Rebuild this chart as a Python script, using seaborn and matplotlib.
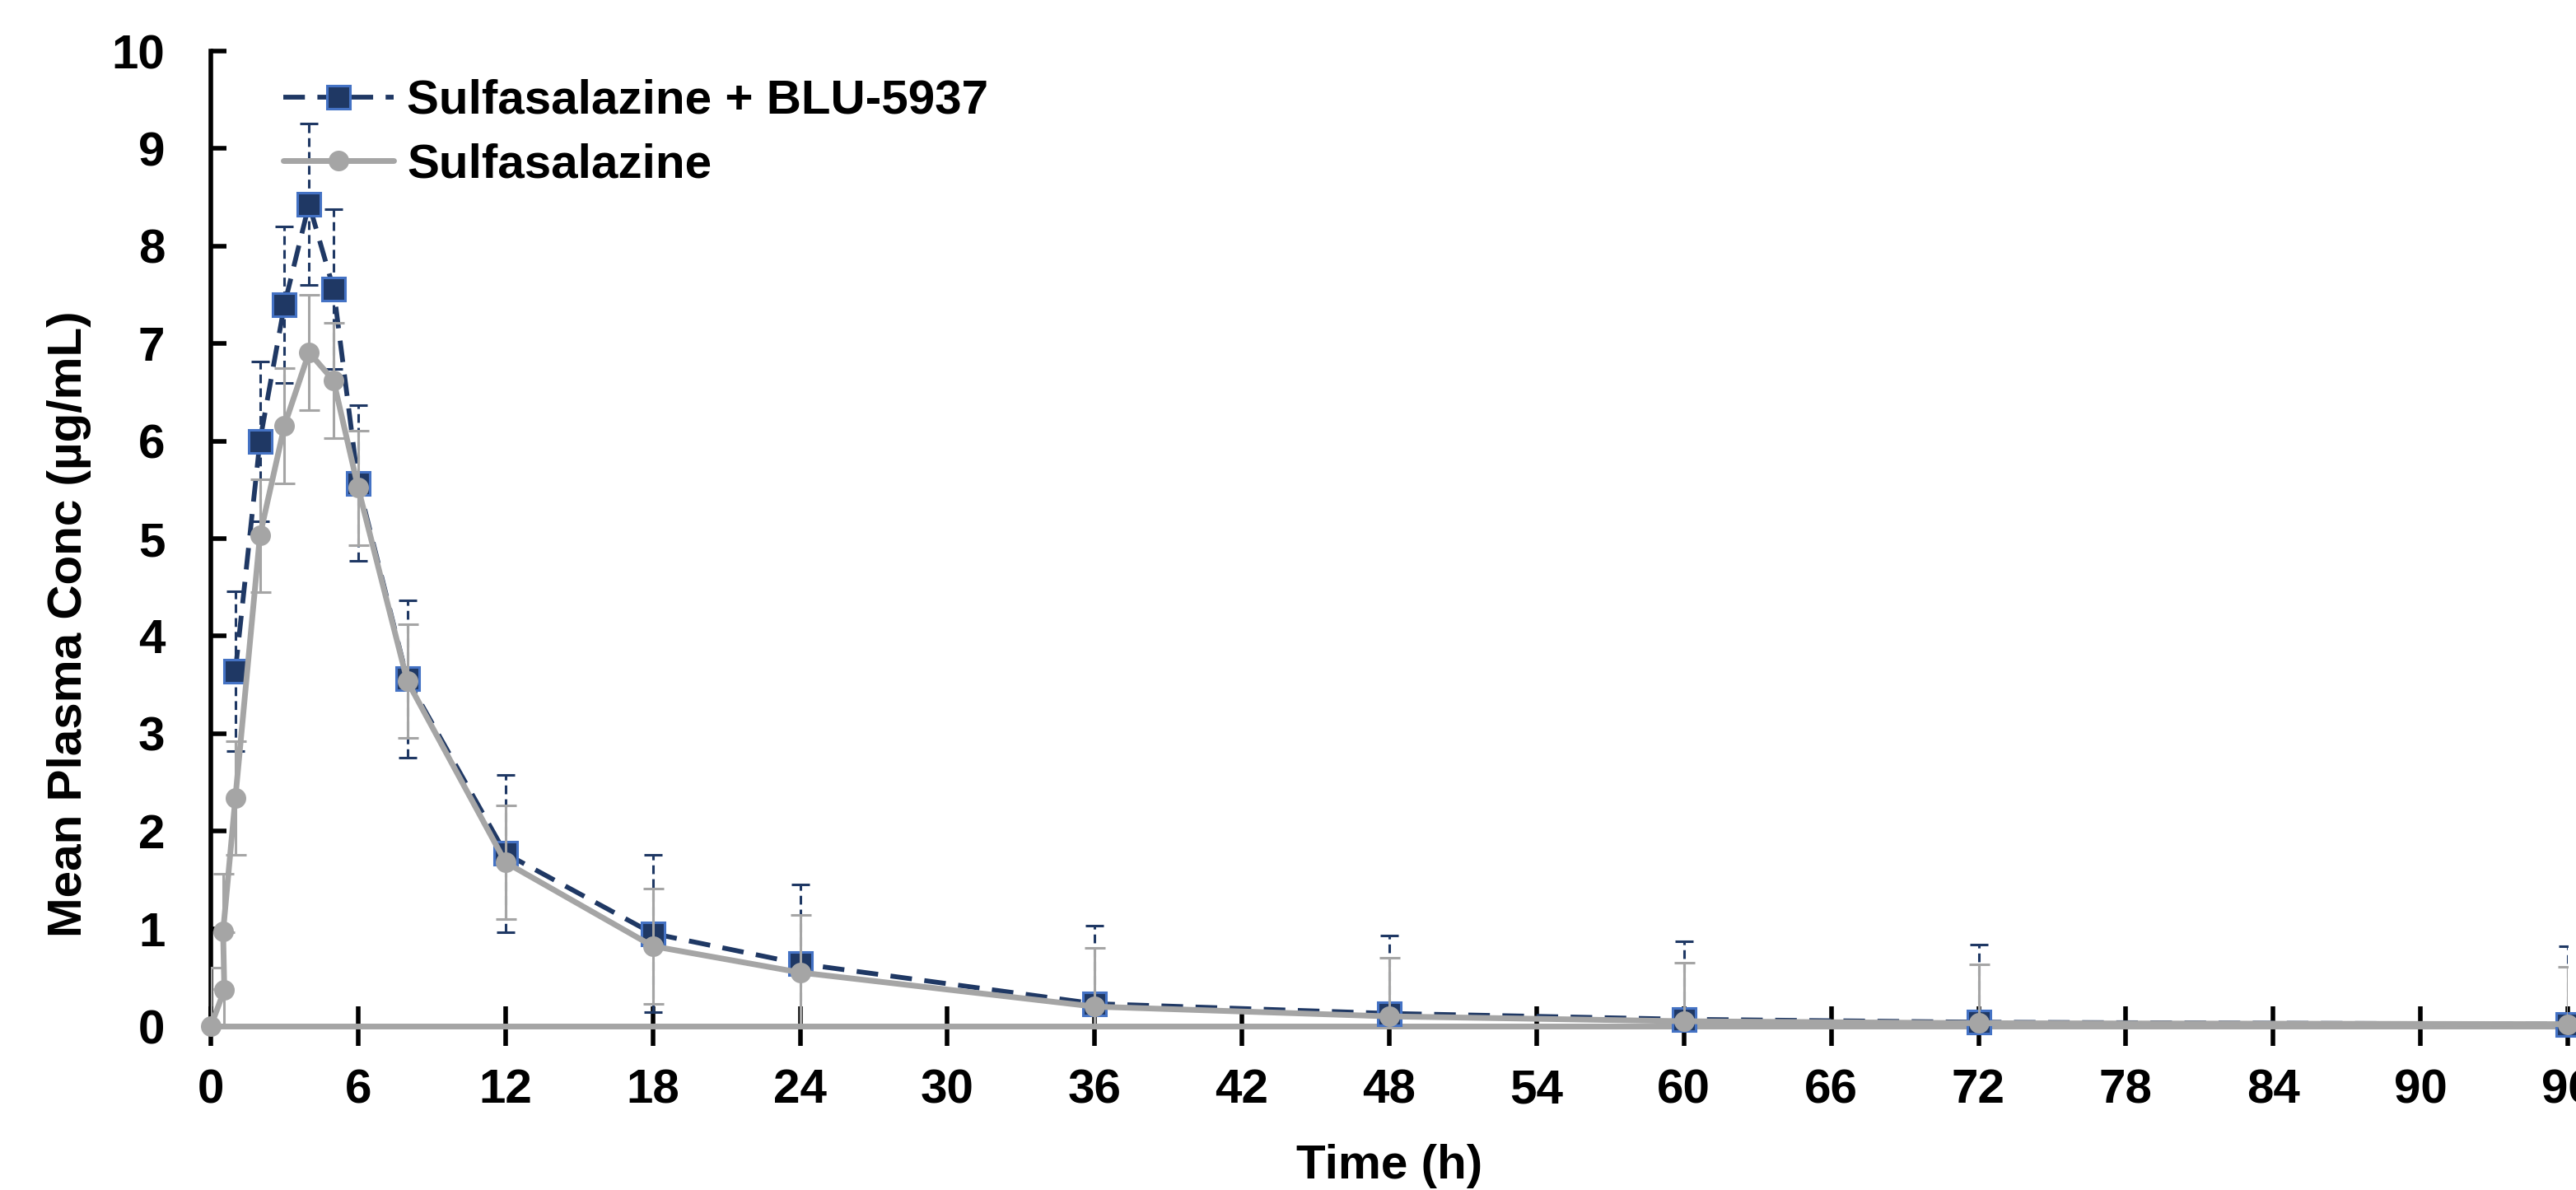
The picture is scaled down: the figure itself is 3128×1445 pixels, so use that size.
import matplotlib
matplotlib.use("Agg")
import matplotlib.pyplot as plt
import seaborn as sns
import pandas as pd

# ---- data ----
time_combo = [1, 2, 3, 4, 5, 6, 8, 12, 18, 24, 36, 48, 60, 72, 96]
conc_combo = [3.64, 6.00, 7.40, 8.43, 7.56, 5.57, 3.56, 1.77, 0.95, 0.64, 0.23, 0.13, 0.07, 0.04, 0.02]
sd_combo = [0.82, 0.82, 0.80, 0.83, 0.82, 0.80, 0.81, 0.81, 0.81, 0.81, 0.80, 0.80, 0.80, 0.80, 0.80]

time_ssz = [0, 0.55, 0.5, 1, 2, 3, 4, 5, 6, 8, 12, 18, 24, 36, 48, 60, 72, 96]
conc_ssz = [0.0, 0.37, 0.97, 2.34, 5.03, 6.16, 6.91, 6.62, 5.52, 3.54, 1.68, 0.82, 0.55, 0.20, 0.10, 0.05, 0.03, 0.02]
sd_ssz = [0.60, 0.59, 0.59, 0.58, 0.58, 0.59, 0.59, 0.59, 0.59, 0.58, 0.58, 0.59, 0.59, 0.60, 0.60, 0.60, 0.60, 0.59]

label_combo = "Sulfasalazine + BLU-5937"
label_ssz = "Sulfasalazine"
x_ticks = list(range(0, 97, 6))
y_ticks = list(range(0, 11, 1))

NAVY = "#1F3864"
NAVY_EDGE = "#4472C4"
GRAY = "#A5A5A5"
FS = 42

sns.set_theme(style="white")
plt.rcParams["font.family"] = ["Liberation Sans", "DejaVu Sans"]
plt.rcParams["font.weight"] = "bold"
plt.rcParams["text.color"] = "black"
plt.rcParams["axes.labelcolor"] = "black"
plt.rcParams["xtick.color"] = "black"
plt.rcParams["ytick.color"] = "black"

df_c = pd.DataFrame({"Time": time_combo, "Conc": conc_combo})
df_s = pd.DataFrame({"Time": time_ssz, "Conc": conc_ssz})

fig = plt.figure(figsize=(31.28, 14.45), dpi=100)
ax = fig.add_axes([256 / 3128, 1 - 1246 / 1445, (3118 - 256) / 3128, (1246 - 62) / 1445])

# error bars (combo) - dashed
eb1 = ax.errorbar(time_combo, conc_combo, yerr=sd_combo, fmt="none", ecolor=NAVY,
                  elinewidth=2.2, capsize=8, capthick=2.2, zorder=2)
for lc in eb1[2]:
    lc.set_linestyle((0, (3.5, 2)))

sns.lineplot(data=df_c, x="Time", y="Conc", ax=ax, sort=False, estimator=None,
             color=NAVY, linewidth=4.2, marker="s", markersize=20,
             markerfacecolor=NAVY, markeredgecolor=NAVY_EDGE, markeredgewidth=2.2,
             label=label_combo, zorder=3, clip_on=False)
ax.lines[-1].set_dashes((4.5, 2.6))

ax.errorbar(time_ssz, conc_ssz, yerr=sd_ssz, fmt="none", ecolor=GRAY,
            elinewidth=2.2, capsize=9, capthick=2.2, zorder=4)

sns.lineplot(data=df_s, x="Time", y="Conc", ax=ax, sort=False, estimator=None,
             color=GRAY, linewidth=5, marker="o", markersize=18,
             markerfacecolor=GRAY, markeredgecolor=GRAY, markeredgewidth=0,
             label=label_ssz, zorder=5, clip_on=False)

ax.set_xlim(0, 96)
ax.set_ylim(0, 10)
ax.set_xticks(x_ticks)
ax.set_yticks(y_ticks)
ax.set_xticklabels([str(t) for t in x_ticks])
ax.set_yticklabels([str(t) for t in y_ticks])

for s in ["top", "right"]:
    ax.spines[s].set_visible(False)
ax.spines["left"].set_color("black")
ax.spines["left"].set_linewidth(4)
ax.spines["bottom"].set_color(GRAY)
ax.spines["bottom"].set_linewidth(5)
ax.spines["bottom"].set_zorder(1)

ax.tick_params(axis="y", direction="in", length=14, width=4, color="black",
               labelcolor="black", labelsize=FS, pad=40, left=True)
ax.tick_params(axis="x", direction="inout", length=34, width=4, color="black",
               labelcolor="black", labelsize=FS, pad=20, bottom=True)
for lab in ax.get_xticklabels() + ax.get_yticklabels():
    lab.set_fontweight("bold")

ax.set_xlabel("Time (h)", fontsize=FS, fontweight="bold", color="black")
ax.set_ylabel("Mean Plasma Conc (µg/mL)", fontsize=FS, fontweight="bold", color="black")
ax.xaxis.label.set_verticalalignment("center")
ax.yaxis.label.set_verticalalignment("center")
ax.xaxis.set_label_coords(0.5, (1246 - 1416) / 1184)
ax.yaxis.set_label_coords((84 - 256) / 2862, (1246 - 758) / 1184)

handles, labels = ax.get_legend_handles_labels()
leg = ax.legend(handles, labels, loc="upper left", bbox_to_anchor=(344 / 3128, 1 - 96 / 1445),
                bbox_transform=fig.transFigure, frameon=False,
                handlelength=2.3, handletextpad=0.27, labelspacing=0.4,
                borderpad=0, borderaxespad=0, prop={"weight": "bold", "size": FS})
for t in leg.get_texts():
    t.set_color("black")
ax.grid(False)

fig.savefig("out.png", dpi=100)
